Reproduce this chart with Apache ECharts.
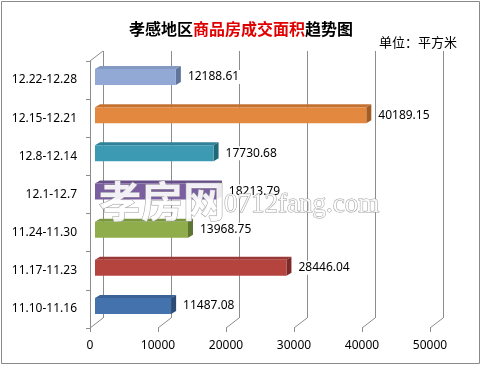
<!DOCTYPE html>
<html>
<head>
<meta charset="utf-8">
<script src="https://cdn.jsdelivr.net/npm/echarts@6/dist/echarts.min.js"></script>
<style>
html,body{margin:0;padding:0;background:#fff;}
#c{width:482px;height:366px;}
</style>
</head>
<body>
<div id="c"></div>
<script>
// ---- data ----
var categories = ['11.10-11.16','11.17-11.23','11.24-11.30','12.1-12.7','12.8-12.14','12.15-12.21','12.22-12.28'];
var areaValues = [11487.08, 28446.04, 13968.75, 18213.79, 17730.68, 40189.15, 12188.61];
var valueTicks = [0, 10000, 20000, 30000, 40000, 50000];
var titleParts = ['孝感地区', '商品房成交面积', '趋势图'];
var unitText = '单位：平方米';
var watermarkCn = '孝房网';
var watermarkEn = '0712fang.com';

// ---- styles ----
var faceColors = [
  ['#4472AD', '#3A6296', '#2C4B75'],
  ['#B5443F', '#9A3835', '#7A2A28'],
  ['#8FAD4B', '#7A9640', '#5E7530'],
  ['#7B5E9F', '#67508A', '#4E3B6C'],
  ['#3C9AB2', '#2F8298', '#216878'],
  ['#E3893F', '#C47232', '#A35C24'],
  ['#93A9D5', '#8399C2', '#61759A']
];
var lineColor = '#8c8c8c';
var DX = 13, DY = -10;      // wall depth
var BX = 5, BY = -3;        // bar depth
var FONT = '"Noto Sans", "Noto Sans CJK SC", sans-serif';

var chart = echarts.init(document.getElementById('c'), null, {renderer: 'canvas'});

function r(v){ return Math.round(v) + 0.5; }

var option = {
  backgroundColor: '#fff',
  animation: false,
  title: {
    text: '{a|' + titleParts[0] + '}{b|' + titleParts[1] + '}{a|' + titleParts[2] + '}',
    left: 'center',
    top: 16,
    textStyle: {
      rich: {
        a: {fontSize: 16, fontWeight: 'bold', color: '#000', fontFamily: '"Noto Sans CJK SC", sans-serif'},
        b: {fontSize: 16, fontWeight: 'bold', color: '#E00000', fontFamily: '"Noto Sans CJK SC", sans-serif'}
      }
    }
  },
  grid: {left: 90, right: 52, top: 61, bottom: 38, containLabel: false},
  xAxis: {
    type: 'value', min: 0, max: 50000, interval: 10000,
    axisLine: {show: false}, axisTick: {show: false}, splitLine: {show: false},
    axisLabel: {margin: 12, fontSize: 12, color: '#000', fontFamily: FONT, formatter: function(v){ return String(v); }}
  },
  yAxis: {
    type: 'category', data: categories,
    axisLine: {show: true, lineStyle: {color: lineColor, width: 1}},
    axisTick: {show: true, length: 4, lineStyle: {color: lineColor}},
    axisLabel: {margin: 13, fontSize: 12, color: '#000', fontFamily: FONT},
    splitLine: {show: false}
  },
  graphic: [
    {type: 'rect', shape: {x: 1.5, y: 1.5, width: 478, height: 362}, style: {fill: 'none', stroke: '#8a8a8a', lineWidth: 1}, z: 0, silent: true},
    {type: 'text', x: 457, y: 42, style: {text: unitText, textAlign: 'right', textVerticalAlign: 'middle', font: '13px "Noto Sans CJK SC", sans-serif', fill: '#000'}, z: 10},
    {type: 'text', x: 99, y: 201, style: {text: watermarkCn, textAlign: 'left', textVerticalAlign: 'middle', font: 'bold 42px "Noto Sans CJK SC", sans-serif', fill: 'rgba(255,255,255,0.9)', stroke: '#a0a0a0', lineWidth: 1}, z: 100, silent: true},
    {type: 'text', x: 224, y: 205, style: {text: watermarkEn, textAlign: 'left', textVerticalAlign: 'middle', font: '27px "Liberation Serif", serif', fill: 'rgba(255,255,255,0.9)', stroke: '#a0a0a0', lineWidth: 1}, z: 100, silent: true}
  ],
  series: [
    {
      type: 'custom',
      name: 'frame',
      coordinateSystem: 'cartesian2d',
      data: valueTicks.map(function(v){ return [v, 0]; }),
      encode: {x: 0, y: 1},
      z: 1,
      silent: true,
      renderItem: function(params, api) {
        var cs = params.coordSys;
        var v = api.value(0);
        var x = api.coord([v, 0])[0];
        var top = cs.y, bot = cs.y + cs.height;
        var children = [
          {type: 'line', shape: {x1: r(x + DX), y1: top + DY, x2: r(x + DX), y2: bot + DY}, style: {stroke: lineColor, lineWidth: 1}},
          {type: 'line', shape: {x1: x, y1: bot, x2: x + DX, y2: bot + DY}, style: {stroke: lineColor, lineWidth: 1}},
          {type: 'line', shape: {x1: r(x), y1: bot, x2: r(x), y2: bot + 4}, style: {stroke: lineColor, lineWidth: 1}}
        ];
        if (v === 0) {
          children.push({type: 'line', shape: {x1: x, y1: top, x2: x + DX, y2: top + DY}, style: {stroke: lineColor, lineWidth: 1}});
        }
        return {type: 'group', children: children};
      }
    },
    {
      type: 'custom',
      name: 'area',
      coordinateSystem: 'cartesian2d',
      data: areaValues.map(function(v, i){ return [v, i]; }),
      encode: {x: 0, y: 1},
      z: 5,
      renderItem: function(params, api) {
        var v = api.value(0), idx = api.value(1);
        var p0 = api.coord([0, idx]);
        var p1 = api.coord([v, idx]);
        var c = p0[1] - 3;
        var x0 = p0[0] + 5, x1 = p1[0] + 3;
        var yT = c - 8, yB = c + 8;
        var col = faceColors[idx];
        return {
          type: 'group',
          children: [
            {type: 'polygon', shape: {points: [[x0, yT], [x0 + BX, yT + BY], [x1 + BX, yT + BY], [x1, yT]]}, style: {fill: col[1]}},
            {type: 'polygon', shape: {points: [[x1, yT], [x1 + BX, yT + BY], [x1 + BX, yB + BY], [x1, yB]]}, style: {fill: col[2]}},
            {type: 'rect', shape: {x: x0, y: yT, width: x1 - x0, height: yB - yT}, style: {fill: col[0]}},
            {type: 'text', x: p1[0] + 14, y: c, style: {
              text: v.toFixed(2), textAlign: 'left', textVerticalAlign: 'middle',
              font: '12px ' + FONT, fill: '#000', backgroundColor: '#fff', padding: [1, 1]
            }}
          ]
        };
      }
    }
  ]
};
chart.setOption(option);
</script>
</body>
</html>
